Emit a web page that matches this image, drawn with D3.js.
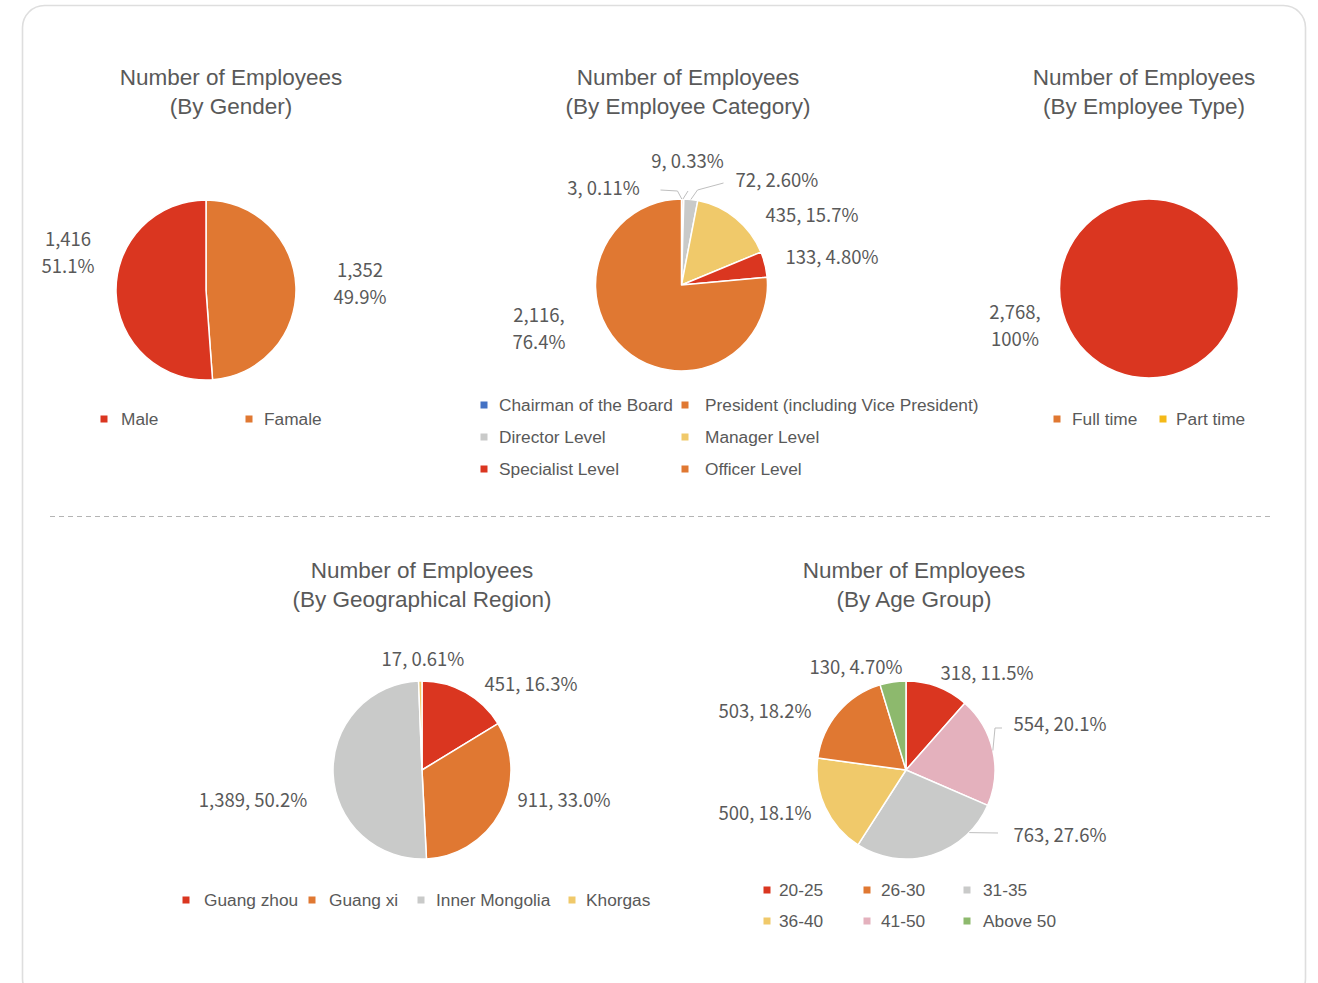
<!DOCTYPE html>
<html>
<head>
<meta charset="utf-8">
<script src="https://cdn.jsdelivr.net/npm/d3@7"></script>
<style>
  body { margin: 0; background: #fff; }
  svg { display: block; }
</style>
</head>
<body>
<svg id="chart" width="1318" height="983"></svg>
<script>
// ---- Headcount data ----
const genderNames = ["Male", "Famale"];
const genderValues = [1416, 1352];
const genderPercents = ["51.1%", "49.9%"];

const categoryNames = ["Chairman of the Board", "President (including Vice President)", "Director Level",
                       "Manager Level", "Specialist Level", "Officer Level"];
const categoryValues = [3, 9, 72, 435, 133, 2116];
const categoryPercents = ["0.11%", "0.33%", "2.60%", "15.7%", "4.80%", "76.4%"];

const typeNames = ["Full time", "Part time"];
const typeValues = [2768, 0];
const typePercents = ["100%", "0%"];

const regionNames = ["Guang zhou", "Guang xi", "Inner Mongolia", "Khorgas"];
const regionValues = [451, 911, 1389, 17];
const regionPercents = ["16.3%", "33.0%", "50.2%", "0.61%"];

const ageGroups = ["20-25", "26-30", "31-35", "36-40", "41-50", "Above 50"];
const ageValues = [318, 503, 763, 500, 554, 130];
const agePercents = ["11.5%", "18.2%", "27.6%", "18.1%", "20.1%", "4.70%"];

// ---- Palette ----
const C = {
  red: "#da3620", orange: "#e07832", grey: "#c9cac9", yellow: "#f0c96a",
  pink: "#e4b1bd", green: "#8db96d", blue: "#4472c4", gold: "#f4b918"
};
const TEXT = "#595959";
const fmt = d3.format(",");

const svg = d3.select("#chart");

// card frame
svg.append("rect")
  .attr("x", 22.5).attr("y", 5.5).attr("width", 1283).attr("height", 995)
  .attr("rx", 22).attr("fill", "#fff").attr("stroke", "#dedede").attr("stroke-width", 1.6);

// dashed divider between the two rows
svg.append("line")
  .attr("x1", 50).attr("x2", 1272).attr("y1", 516.5).attr("y2", 516.5)
  .attr("stroke", "#b4b4b4").attr("stroke-width", 1).attr("stroke-dasharray", "5,4");

function drawPie(cfg) {
  // title
  const t = svg.append("text")
    .attr("x", cfg.title.x).attr("text-anchor", "middle")
    .attr("font-family", "'Liberation Sans', Arial, sans-serif")
    .attr("font-size", 22.5).attr("fill", TEXT);
  cfg.title.lines.forEach((ln, k) => {
    t.append("tspan").attr("x", cfg.title.x)
      .attr("y", cfg.title.y + k * 29).attr("dy", "0.35em").text(ln);
  });

  const g = svg.append("g").attr("transform", `translate(${cfg.cx},${cfg.cy})`);
  const pie = d3.pie().sort(null).value(i => cfg.values[i]);
  const arcs = pie(cfg.order);
  const arc = d3.arc().innerRadius(0).outerRadius(cfg.r);
  const byIndex = {};
  arcs.forEach(a => { byIndex[a.data] = a; });

  g.selectAll("path.slice")
    .data(arcs.filter(a => cfg.values[a.data] > 0))
    .join("path")
    .attr("class", "slice")
    .attr("d", arc)
    .attr("fill", a => cfg.sliceColors[a.data])
    .attr("stroke", "#fff")
    .attr("stroke-width", 1.5)
    .attr("stroke-linejoin", "round");

  // leader lines
  (cfg.leaders || []).forEach(ld => {
    const a = byIndex[ld.i];
    const ang = ld.angle != null ? ld.angle * Math.PI / 180 : (a.startAngle + a.endAngle) / 2;
    const end = [cfg.r * Math.sin(ang), -cfg.r * Math.cos(ang)];
    g.append("path")
      .attr("d", d3.line()([...ld.pts, end]))
      .attr("fill", "none").attr("stroke", "#bfbfbf").attr("stroke-width", 1);
  });

  // data labels
  cfg.labels.forEach(lb => {
    const v = fmt(cfg.values[lb.i]);
    const p = cfg.percents[lb.i];
    let lines;
    if (lb.mode === "stack") lines = [v, p];
    else if (lb.mode === "stackc") lines = [v + ",", p];
    else lines = [v + ", " + p];
    const txt = g.append("text")
      .attr("text-anchor", "middle")
      .attr("font-family", "'Noto Sans CJK SC', 'Noto Sans', sans-serif")
      .attr("font-size", 18.5).attr("fill", TEXT);
    lines.forEach((ln, k) => {
      txt.append("tspan").attr("x", lb.dx).attr("y", lb.dy + k * 27)
        .attr("dy", "0.35em").text(ln);
    });
  });

  // legend
  cfg.legend.forEach(it => {
    svg.append("rect")
      .attr("x", it.mx - 3.5).attr("y", it.y - 3.5)
      .attr("width", 7).attr("height", 7)
      .attr("fill", cfg.legendColors[it.i]);
    svg.append("text")
      .attr("x", it.tx).attr("y", it.y).attr("dy", "0.35em")
      .attr("font-family", "'Liberation Sans', Arial, sans-serif")
      .attr("font-size", 17.3).attr("fill", TEXT)
      .text(cfg.names[it.i]);
  });
}

// ---- By Gender ----
drawPie({
  title: { x: 231, y: 77, lines: ["Number of Employees", "(By Gender)"] },
  cx: 206, cy: 290, r: 90,
  names: genderNames, values: genderValues, percents: genderPercents,
  order: [1, 0],
  sliceColors: [C.red, C.orange], legendColors: [C.red, C.orange],
  labels: [
    { i: 0, dx: -138, dy: -50, mode: "stack" },
    { i: 1, dx: 154, dy: -19, mode: "stack" }
  ],
  legend: [
    { i: 0, mx: 104, tx: 121, y: 419 },
    { i: 1, mx: 249, tx: 264, y: 419 }
  ]
});

// ---- By Employee Category ----
drawPie({
  title: { x: 688, y: 77, lines: ["Number of Employees", "(By Employee Category)"] },
  cx: 681.5, cy: 285, r: 86,
  names: categoryNames, values: categoryValues, percents: categoryPercents,
  order: [0, 1, 2, 3, 4, 5],
  sliceColors: [C.blue, C.orange, C.grey, C.yellow, C.red, C.orange],
  legendColors: [C.blue, C.orange, C.grey, C.yellow, C.red, C.orange],
  leaders: [
    { i: 0, pts: [[-21, -95], [-4, -94]] },
    { i: 1, pts: [[6.5, -94]] },
    { i: 2, pts: [[42, -102], [16, -95]] }
  ],
  labels: [
    { i: 0, dx: -78, dy: -96, mode: "line" },
    { i: 1, dx: 6, dy: -123, mode: "line" },
    { i: 2, dx: 95.5, dy: -104, mode: "line" },
    { i: 3, dx: 130.5, dy: -69, mode: "line" },
    { i: 4, dx: 150.5, dy: -27, mode: "line" },
    { i: 5, dx: -142.5, dy: 31, mode: "stackc" }
  ],
  legend: [
    { i: 0, mx: 484, tx: 499, y: 405 },
    { i: 1, mx: 685, tx: 705, y: 405 },
    { i: 2, mx: 484, tx: 499, y: 437 },
    { i: 3, mx: 685, tx: 705, y: 437 },
    { i: 4, mx: 484, tx: 499, y: 469 },
    { i: 5, mx: 685, tx: 705, y: 469 }
  ]
});

// ---- By Employee Type ----
drawPie({
  title: { x: 1144, y: 77, lines: ["Number of Employees", "(By Employee Type)"] },
  cx: 1149, cy: 288.5, r: 89.5,
  names: typeNames, values: typeValues, percents: typePercents,
  order: [0, 1],
  sliceColors: [C.red, C.gold], legendColors: [C.orange, C.gold],
  labels: [
    { i: 0, dx: -134, dy: 24, mode: "stackc" }
  ],
  legend: [
    { i: 0, mx: 1057, tx: 1072, y: 419 },
    { i: 1, mx: 1163, tx: 1176, y: 419 }
  ]
});

// ---- By Geographical Region ----
drawPie({
  title: { x: 422, y: 570, lines: ["Number of Employees", "(By Geographical Region)"] },
  cx: 422, cy: 770, r: 89,
  names: regionNames, values: regionValues, percents: regionPercents,
  order: [0, 1, 2, 3],
  sliceColors: [C.red, C.orange, C.grey, C.yellow],
  legendColors: [C.red, C.orange, C.grey, C.yellow],
  labels: [
    { i: 3, dx: 1, dy: -110, mode: "line" },
    { i: 0, dx: 109, dy: -85, mode: "line" },
    { i: 1, dx: 142, dy: 31, mode: "line" },
    { i: 2, dx: -169, dy: 31, mode: "line" }
  ],
  legend: [
    { i: 0, mx: 186, tx: 204, y: 900 },
    { i: 1, mx: 312, tx: 329, y: 900 },
    { i: 2, mx: 421, tx: 436, y: 900 },
    { i: 3, mx: 572, tx: 586, y: 900 }
  ]
});

// ---- By Age Group ----
drawPie({
  title: { x: 914, y: 570, lines: ["Number of Employees", "(By Age Group)"] },
  cx: 906, cy: 770, r: 89,
  names: ageGroups, values: ageValues, percents: agePercents,
  order: [0, 4, 2, 3, 1, 5],
  sliceColors: [C.red, C.orange, C.grey, C.yellow, C.pink, C.green],
  legendColors: [C.red, C.orange, C.grey, C.yellow, C.pink, C.green],
  leaders: [
    { i: 4, pts: [[96, -42], [89, -42]] },
    { i: 2, pts: [[92, 63]], angle: 134.7 }
  ],
  labels: [
    { i: 5, dx: -50, dy: -102, mode: "line" },
    { i: 0, dx: 81, dy: -96, mode: "line" },
    { i: 4, dx: 154, dy: -45, mode: "line" },
    { i: 2, dx: 154, dy: 66, mode: "line" },
    { i: 1, dx: -141, dy: -58, mode: "line" },
    { i: 3, dx: -141, dy: 44, mode: "line" }
  ],
  legend: [
    { i: 0, mx: 767, tx: 779, y: 890 },
    { i: 1, mx: 867, tx: 881, y: 890 },
    { i: 2, mx: 967, tx: 983, y: 890 },
    { i: 3, mx: 767, tx: 779, y: 921 },
    { i: 4, mx: 867, tx: 881, y: 921 },
    { i: 5, mx: 967, tx: 983, y: 921 }
  ]
});
</script>
</body>
</html>
